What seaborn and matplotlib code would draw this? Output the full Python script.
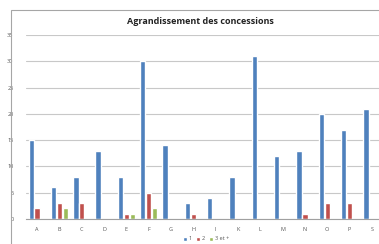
import matplotlib
matplotlib.use("Agg")
import matplotlib.pyplot as plt
import seaborn as sns
import pandas as pd
from matplotlib.patches import Rectangle

categories = ["A", "B", "C", "D", "E", "F", "G", "H", "I", "K", "L", "M", "N", "O", "P", "S"]
series_names = ["1", "2", "3 et +"]
s1 = [15, 6, 8, 13, 8, 30, 14, 3, 4, 8, 31, 12, 13, 20, 17, 21]
s2 = [2, 3, 3, 0, 1, 5, 0, 1, 0, 0, 0, 0, 1, 3, 3, 0]
s3 = [0, 2, 0, 0, 1, 2, 0, 0, 0, 0, 0, 0, 0, 0, 0, 0]
y_ticks = [0, 5, 10, 15, 20, 25, 30, 35]
title = "Agrandissement des concessions"

rows = []
for name, vals in zip(series_names, [s1, s2, s3]):
    for c, v in zip(categories, vals):
        rows.append({"cat": c, "serie": name, "val": v})
df = pd.DataFrame(rows)

sns.set_theme(style="white")
plt.rcParams["font.family"] = ["Open Sans", "DejaVu Sans"]

W, H = 379, 244
fig = plt.figure(figsize=(W / 100, H / 100), dpi=100)
fig.patch.set_facecolor("white")

# chart area border (cropped)
fig.patches.append(Rectangle((11 / W, -0.1), 1.2, (H - 10) / H + 0.1, transform=fig.transFigure,
                             fill=False, edgecolor="#a6a6a6", linewidth=0.8, zorder=0))

left, right_px, top_px, bottom_px = 26, 383, 35, 219
ax = fig.add_axes([left / W, 1 - bottom_px / H, (right_px - left) / W, (bottom_px - top_px) / H])
ax.set_facecolor("none")

palette = ["#4F81BD", "#C0504D", "#9BBB59"]
sns.barplot(data=df, x="cat", y="val", hue="serie", palette=palette, order=categories,
            hue_order=series_names, width=0.8, gap=0.1, ax=ax, saturation=1, legend=True)

ax.set_ylim(0, 35)
ax.set_xlim(-0.5, len(categories) - 0.5)
ax.set_yticks(y_ticks)
ax.yaxis.grid(True, color="#c8c8c8", linewidth=0.8)
ax.set_axisbelow(True)
for s in ["left", "right", "top"]:
    ax.spines[s].set_visible(False)
ax.spines["bottom"].set_color("#a0a0a0")
ax.spines["bottom"].set_linewidth(0.8)
ax.tick_params(axis="both", length=0, labelsize=4, colors="#555555")
ax.tick_params(axis="y", pad=9)
ax.tick_params(axis="x", pad=6)
ax.set_xlabel("")
ax.set_ylabel("")

fig.text(200 / W, 1 - 22 / H, title, ha="center", va="center", fontsize=6.5, fontweight="bold",
         color="#222222")

handles, labels = ax.get_legend_handles_labels()
ax.legend(handles, labels, ncol=3, loc="center", bbox_to_anchor=(206 / W, 1 - 239 / H),
          bbox_transform=fig.transFigure, frameon=False, fontsize=4, handlelength=0.7,
          handleheight=0.7, columnspacing=0.8, handletextpad=0.3, labelcolor="#555555")

fig.savefig("out.png", dpi=100)
